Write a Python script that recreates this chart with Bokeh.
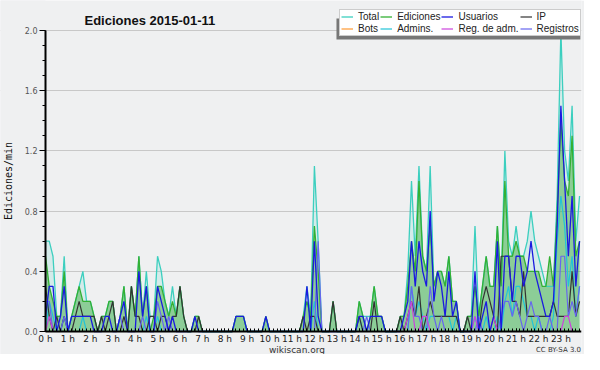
from bokeh.plotting import figure
from bokeh.models import (Range1d, FixedTicker, Label, Legend, LegendItem,
                          BoxAnnotation, PrintfTickFormatter)
from bokeh.embed import file_html
from bokeh.resources import INLINE

# ---- data: edits per minute, one value per 10 minutes (6 per hour) ----
hour_labels = [f"{h} h" for h in range(24)]
hours = list(range(24))

total = [
    0.6, 0.6, 0.5, 0.1, 0.1, 0.5,   # 0
    0.0, 0.1, 0.2, 0.3, 0.4, 0.2,   # 1
    0.2, 0.1, 0.0, 0.1, 0.1, 0.2,   # 2
    0.2, 0.0, 0.1, 0.3, 0.0, 0.3,   # 3
    0.1, 0.5, 0.1, 0.4, 0.1, 0.1,   # 4
    0.5, 0.4, 0.2, 0.1, 0.3, 0.1,   # 5
    0.3, 0.1, 0.0, 0.0, 0.1, 0.1,   # 6
    0.0, 0.0, 0.0, 0.0, 0.0, 0.0,   # 7
    0.0, 0.0, 0.0, 0.1, 0.1, 0.1,   # 8
    0.0, 0.0, 0.0, 0.0, 0.0, 0.1,   # 9
    0.0, 0.0, 0.0, 0.0, 0.0, 0.0,   # 10
    0.0, 0.0, 0.0, 0.1, 0.3, 0.1,   # 11
    1.1, 0.6, 0.0, 0.0, 0.0, 0.2,   # 12
    0.0, 0.0, 0.0, 0.0, 0.0, 0.0,   # 13
    0.2, 0.1, 0.1, 0.1, 0.3, 0.1,   # 14
    0.1, 0.0, 0.0, 0.0, 0.0, 0.1,   # 15
    0.1, 0.4, 1.0, 0.5, 1.1, 0.5,   # 16
    0.4, 1.1, 0.3, 0.4, 0.4, 0.3,   # 17
    0.5, 0.2, 0.2, 0.0, 0.0, 0.1,   # 18
    0.1, 0.7, 0.1, 0.3, 0.5, 0.3,   # 19
    0.3, 0.7, 0.3, 1.2, 0.6, 0.5,   # 20
    0.7, 0.5, 0.5, 0.6, 0.8, 0.6,   # 21
    0.5, 0.4, 0.3, 0.3, 0.3, 0.9,   # 22
    2.0, 1.2, 1.0, 1.5, 0.6, 0.9,   # 23
]
ediciones = [
    0.5, 0.3, 0.2, 0.1, 0.1, 0.4,
    0.0, 0.1, 0.2, 0.3, 0.2, 0.2,
    0.2, 0.1, 0.0, 0.1, 0.1, 0.2,
    0.2, 0.0, 0.1, 0.3, 0.0, 0.3,
    0.1, 0.5, 0.1, 0.3, 0.0, 0.1,
    0.3, 0.3, 0.2, 0.1, 0.2, 0.1,
    0.3, 0.1, 0.0, 0.0, 0.1, 0.1,
    0.0, 0.0, 0.0, 0.0, 0.0, 0.0,
    0.0, 0.0, 0.0, 0.1, 0.1, 0.1,
    0.0, 0.0, 0.0, 0.0, 0.0, 0.1,
    0.0, 0.0, 0.0, 0.0, 0.0, 0.0,
    0.0, 0.0, 0.0, 0.1, 0.2, 0.1,
    0.7, 0.4, 0.0, 0.0, 0.0, 0.2,
    0.0, 0.0, 0.0, 0.0, 0.0, 0.0,
    0.2, 0.1, 0.0, 0.1, 0.3, 0.1,
    0.1, 0.0, 0.0, 0.0, 0.0, 0.1,
    0.1, 0.3, 0.6, 0.4, 1.0, 0.5,
    0.4, 0.7, 0.3, 0.4, 0.4, 0.3,
    0.5, 0.2, 0.2, 0.0, 0.0, 0.1,
    0.1, 0.3, 0.1, 0.3, 0.5, 0.3,
    0.3, 0.7, 0.3, 1.0, 0.5, 0.5,
    0.6, 0.5, 0.5, 0.4, 0.4, 0.4,
    0.4, 0.3, 0.3, 0.5, 0.3, 0.8,
    1.4, 1.0, 0.9, 1.3, 0.5, 0.6,
]
usuarios = [
    0.1, 0.3, 0.3, 0.0, 0.1, 0.3,
    0.0, 0.1, 0.1, 0.1, 0.1, 0.1,
    0.1, 0.0, 0.0, 0.0, 0.1, 0.1,
    0.0, 0.0, 0.1, 0.2, 0.0, 0.0,
    0.0, 0.4, 0.1, 0.3, 0.0, 0.0,
    0.3, 0.2, 0.1, 0.0, 0.1, 0.0,
    0.0, 0.0, 0.0, 0.0, 0.1, 0.0,
    0.0, 0.0, 0.0, 0.0, 0.0, 0.0,
    0.0, 0.0, 0.0, 0.1, 0.1, 0.1,
    0.0, 0.0, 0.0, 0.0, 0.0, 0.1,
    0.0, 0.0, 0.0, 0.0, 0.0, 0.0,
    0.0, 0.0, 0.0, 0.0, 0.3, 0.0,
    0.6, 0.1, 0.0, 0.0, 0.0, 0.0,
    0.0, 0.0, 0.0, 0.0, 0.0, 0.0,
    0.1, 0.1, 0.0, 0.1, 0.1, 0.1,
    0.1, 0.0, 0.0, 0.0, 0.0, 0.0,
    0.1, 0.2, 0.6, 0.3, 0.6, 0.4,
    0.3, 0.8, 0.2, 0.4, 0.3, 0.1,
    0.4, 0.1, 0.2, 0.0, 0.0, 0.0,
    0.0, 0.4, 0.0, 0.1, 0.2, 0.0,
    0.1, 0.6, 0.0, 0.5, 0.5, 0.2,
    0.5, 0.5, 0.3, 0.4, 0.6, 0.4,
    0.3, 0.2, 0.1, 0.1, 0.2, 0.7,
    1.5, 1.0, 0.5, 0.9, 0.3, 0.6,
]
ip = [
    0.3, 0.1, 0.0, 0.1, 0.0, 0.1,
    0.0, 0.0, 0.1, 0.2, 0.1, 0.1,
    0.1, 0.1, 0.0, 0.1, 0.0, 0.1,
    0.2, 0.0, 0.0, 0.1, 0.0, 0.3,
    0.1, 0.1, 0.0, 0.0, 0.1, 0.1,
    0.0, 0.1, 0.1, 0.0, 0.1, 0.1,
    0.3, 0.1, 0.0, 0.0, 0.0, 0.1,
    0.0, 0.0, 0.0, 0.0, 0.0, 0.0,
    0.0, 0.0, 0.0, 0.0, 0.0, 0.0,
    0.0, 0.0, 0.0, 0.0, 0.0, 0.0,
    0.0, 0.0, 0.0, 0.0, 0.0, 0.0,
    0.0, 0.0, 0.0, 0.1, 0.0, 0.1,
    0.1, 0.0, 0.0, 0.0, 0.0, 0.2,
    0.0, 0.0, 0.0, 0.0, 0.0, 0.0,
    0.1, 0.0, 0.0, 0.0, 0.2, 0.0,
    0.0, 0.0, 0.0, 0.0, 0.0, 0.1,
    0.0, 0.1, 0.2, 0.1, 0.3, 0.0,
    0.1, 0.2, 0.1, 0.1, 0.1, 0.1,
    0.1, 0.1, 0.1, 0.0, 0.0, 0.1,
    0.0, 0.0, 0.0, 0.2, 0.3, 0.2,
    0.1, 0.0, 0.5, 0.5, 0.5, 0.2,
    0.2, 0.1, 0.4, 0.1, 0.1, 0.1,
    0.1, 0.1, 0.1, 0.1, 0.2, 0.1,
    0.1, 0.1, 0.1, 0.4, 0.1, 0.2,
]
bots = [0.0] * 144
admins = [
    0.0, 0.2, 0.1, 0.0, 0.0, 0.1,
    0.0, 0.0, 0.0, 0.0, 0.1, 0.0,
    0.0, 0.0, 0.0, 0.0, 0.0, 0.0,
    0.0, 0.0, 0.0, 0.0, 0.0, 0.0,
    0.0, 0.0, 0.0, 0.1, 0.0, 0.0,
    0.1, 0.0, 0.0, 0.0, 0.0, 0.0,
    0.0, 0.0, 0.0, 0.0, 0.0, 0.0,
    0.0, 0.0, 0.0, 0.0, 0.0, 0.0,
    0.0, 0.0, 0.0, 0.0, 0.0, 0.0,
    0.0, 0.0, 0.0, 0.0, 0.0, 0.0,
    0.0, 0.0, 0.0, 0.0, 0.0, 0.0,
    0.0, 0.0, 0.0, 0.0, 0.0, 0.0,
    0.2, 0.0, 0.0, 0.0, 0.0, 0.0,
    0.0, 0.0, 0.0, 0.0, 0.0, 0.0,
    0.1, 0.0, 0.0, 0.0, 0.0, 0.0,
    0.0, 0.0, 0.0, 0.0, 0.0, 0.0,
    0.0, 0.0, 0.3, 0.1, 0.2, 0.1,
    0.0, 0.1, 0.1, 0.1, 0.1, 0.1,
    0.1, 0.0, 0.1, 0.0, 0.0, 0.0,
    0.0, 0.1, 0.0, 0.0, 0.1, 0.0,
    0.0, 0.1, 0.0, 0.2, 0.3, 0.1,
    0.3, 0.3, 0.2, 0.1, 0.1, 0.0,
    0.1, 0.0, 0.0, 0.0, 0.1, 0.6,
    0.9, 0.7, 0.3, 0.5, 0.1, 0.3,
]
reg_adm = [
    0.0, 0.1, 0.0, 0.0, 0.0, 0.0,   # 0
    *([0.0] * 90),                  # 1 - 15
    0.0, 0.1, 0.2, 0.0, 0.0, 0.1,   # 16
    0.1, 0.0, 0.0, 0.0, 0.0, 0.0,   # 17
    0.0, 0.0, 0.0, 0.0, 0.0, 0.0,   # 18
    0.0, 0.1, 0.0, 0.0, 0.0, 0.0,   # 19
    0.1, 0.0, 0.0, 0.0, 0.0, 0.0,   # 20
    0.0, 0.0, 0.0, 0.0, 0.0, 0.0,   # 21
    0.0, 0.0, 0.0, 0.0, 0.0, 0.0,   # 22
    0.0, 0.1, 0.1, 0.0, 0.0, 0.0,   # 23
]
registros = [
    0.2, 0.2, 0.0, 0.0, 0.0, 0.1,
    0.0, 0.0, 0.0, 0.0, 0.0, 0.0,
    0.0, 0.0, 0.0, 0.0, 0.0, 0.0,
    0.0, 0.0, 0.1, 0.0, 0.0, 0.0,
    0.0, 0.0, 0.1, 0.0, 0.0, 0.0,
    0.2, 0.1, 0.0, 0.1, 0.0, 0.0,
    0.0, 0.0, 0.0, 0.0, 0.0, 0.0,
    0.0, 0.0, 0.0, 0.0, 0.0, 0.0,
    0.0, 0.0, 0.0, 0.0, 0.0, 0.0,
    0.0, 0.0, 0.0, 0.0, 0.0, 0.0,
    0.0, 0.0, 0.0, 0.0, 0.0, 0.0,
    0.0, 0.0, 0.0, 0.0, 0.0, 0.0,
    0.0, 0.6, 0.0, 0.0, 0.0, 0.0,
    0.0, 0.0, 0.0, 0.0, 0.0, 0.0,
    0.0, 0.0, 0.1, 0.0, 0.0, 0.0,
    0.0, 0.0, 0.0, 0.0, 0.0, 0.0,
    0.0, 0.0, 0.3, 0.1, 0.1, 0.0,
    0.0, 0.3, 0.1, 0.0, 0.1, 0.0,
    0.0, 0.0, 0.0, 0.0, 0.0, 0.0,
    0.0, 0.0, 0.1, 0.0, 0.0, 0.0,
    0.0, 0.0, 0.1, 0.2, 0.2, 0.1,
    0.2, 0.1, 0.0, 0.1, 0.2, 0.1,
    0.1, 0.0, 0.0, 0.1, 0.0, 0.0,
    0.5, 0.5, 0.1, 0.2, 0.1, 0.3,
]

n = len(total)
x = [i / 6 for i in range(n)]

BG = "#eff0f1"
p = figure(width=584, height=354, output_backend="svg", toolbar_location=None,
           x_range=Range1d(-2.009, 23.92), y_range=Range1d(-0.1528, 2.1993),
           min_border_left=0, min_border_right=3, min_border_top=0,
           min_border_bottom=0, background_fill_color=BG,
           border_fill_color=BG, outline_line_color=None)
p.title.visible = False

# hide grid lines left of the y axis
p.add_layout(BoxAnnotation(left=-2.1, right=0, top=2.3, bottom=-0.2,
                           fill_color=BG, fill_alpha=1.0, line_alpha=0,
                           level="underlay"))

# areas and lines
p.varea(x=x, y1=0, y2=total, fill_color="#40d0c0", fill_alpha=0.15)
r_bots = p.line(x, bots, line_color="#ff9933", line_width=1.2)
p.varea(x=x, y1=0, y2=ediciones, fill_color="#33a833", fill_alpha=0.45)
r_total = p.line(x, total, line_color="#3ccfbf", line_width=1.3)
r_edic = p.line(x, ediciones, line_color="#33b033", line_width=1.3)
r_adm = p.line(x, admins, line_color="#22c4d8", line_width=1.2)
r_ip = p.line(x, ip, line_color="#333333", line_width=1.2)
r_reg = p.line(x, registros, line_color="#6666ee", line_width=1.2)
r_regadm = p.line(x, reg_adm, line_color="#cc44dd", line_width=1.2)
r_users = p.line(x, usuarios, line_color="#1a1ae0", line_width=1.3)

# x axis drawn at y = 0
xa = p.xaxis[0]
xa.fixed_location = 0
xa.bounds = (0, 23.92)
xa.ticker = FixedTicker(ticks=hours, minor_ticks=x)
xa.major_label_overrides = {h: lab for h, lab in zip(hours, hour_labels)}
xa.major_tick_in = 3
xa.major_tick_out = 0
xa.minor_tick_in = 3
xa.minor_tick_out = 0
xa.axis_line_width = 2
xa.major_label_standoff = 2
xa.major_label_text_font = "DejaVu Sans"
xa.major_label_text_font_size = "9px"
xa.major_label_text_color = "#222222"

# y axis drawn at x = 0
ya = p.yaxis[0]
ya.fixed_location = 0
ya.bounds = (0, 2.0)
ya.ticker = FixedTicker(ticks=[0, 0.4, 0.8, 1.2, 1.6, 2.0],
                        minor_ticks=[i / 10 for i in range(21)])
ya.formatter = PrintfTickFormatter(format="%.1f")
ya.major_tick_in = 0
ya.major_tick_out = 6
ya.minor_tick_in = 0
ya.minor_tick_out = 3
ya.axis_line_width = 2
ya.major_label_standoff = 2
ya.major_label_text_font = "DejaVu Sans"
ya.major_label_text_font_size = "8px"
ya.major_label_text_color = "#555555"
ya.axis_label = "Ediciones/min"
ya.axis_label_text_font = "DejaVu Sans Mono"
ya.axis_label_text_font_style = "normal"
ya.axis_label_text_font_size = "10px"
ya.axis_label_text_color = "#111111"
ya.axis_label_standoff = 8

p.xgrid.visible = False
p.ygrid.ticker = FixedTicker(ticks=[0.4, 0.8, 1.2, 1.6, 2.0])
p.ygrid.grid_line_color = "#c8c8c8"

# texts
p.add_layout(Label(x=1.74, y=2.066, text="Ediciones  2015-01-11",
                   text_font="Liberation Sans", text_font_style="bold",
                   text_font_size="13px", text_color="#111111",
                   text_baseline="alphabetic"))
p.add_layout(Label(x=11.22, y=-0.1262, text="wikiscan.org",
                   text_font="DejaVu Sans", text_font_size="9px",
                   text_color="#333333", text_align="center",
                   text_baseline="alphabetic"))
p.add_layout(Label(x=23.9, y=-0.1262, text="CC BY-SA 3.0",
                   text_font="DejaVu Sans", text_font_size="7px",
                   text_color="#333333", text_align="right",
                   text_baseline="alphabetic"))

# legend shadow + legend
p.add_layout(BoxAnnotation(left=12.985, right=23.87, top=2.08, bottom=1.940,
                           fill_color="#777777", fill_alpha=1.0,
                           line_alpha=0, level="annotation"))
items = [
    LegendItem(label="Total", renderers=[r_total]),
    LegendItem(label="Ediciones", renderers=[r_edic]),
    LegendItem(label="Usuarios", renderers=[r_users]),
    LegendItem(label="IP", renderers=[r_ip]),
    LegendItem(label="Bots", renderers=[r_bots]),
    LegendItem(label="Admins.", renderers=[r_adm]),
    LegendItem(label="Reg. de adm.", renderers=[r_regadm]),
    LegendItem(label="Registros", renderers=[r_reg]),
]
legend = Legend(items=items, location=(339, 318), orientation="horizontal",
                ncols=4, background_fill_color="white", background_fill_alpha=1,
                border_line_color="#999999", border_line_width=1,
                label_text_font="Liberation Sans", label_text_font_size="10px",
                label_text_color="#222222", label_height=10, label_standoff=5,
                glyph_width=12, glyph_height=9, spacing=1, padding=1, margin=0)
p.add_layout(legend)

open("out.html", "w").write(file_html(p, INLINE))
